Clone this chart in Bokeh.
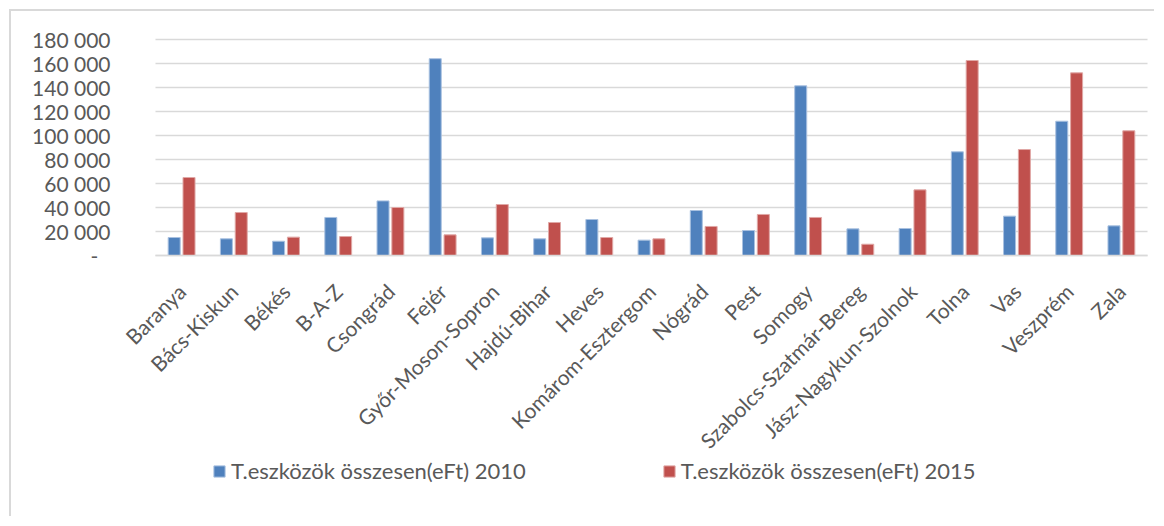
from bokeh.plotting import figure
from bokeh.models import ColumnDataSource, FixedTicker, Legend, LegendItem, Range1d, Grid
from bokeh.transform import dodge
from bokeh.embed import file_html
from bokeh.resources import INLINE

counties = ["Baranya", "Bács-Kiskun", "Békés", "B-A-Z", "Csongrád", "Fejér",
            "Győr-Moson-Sopron", "Hajdú-Bihar", "Heves", "Komárom-Esztergom",
            "Nógrád", "Pest", "Somogy", "Szabolcs-Szatmár-Bereg",
            "Jász-Nagykun-Szolnok", "Tolna", "Vas", "Veszprém", "Zala"]
values_2010 = [15000, 13900, 11900, 31700, 45500, 164000, 14700, 13900, 30000, 12800,
               37500, 20800, 141400, 22200, 22500, 86400, 32800, 111900, 24700]
values_2015 = [65000, 35800, 15300, 15800, 40000, 17200, 42500, 27500, 15000, 13900,
               24200, 34200, 31700, 9400, 54700, 162500, 88300, 152200, 103900]
series_names = ["T.eszközök összesen(eFt) 2010", "T.eszközök összesen(eFt) 2015"]
series_colors = ["#4F81BD", "#C0504D"]
edge_colors = ["#a9c1e0", "#e0a8a6"]
y_ticks = [0, 20000, 40000, 60000, 80000, 100000, 120000, 140000, 160000, 180000]
y_tick_labels = ["-\u2007", "20 000", "40 000", "60 000", "80 000", "100 000",
                 "120 000", "140 000", "160 000", "180 000"]

FONT = "Lato"
GREY = "#595959"

# layout constants (pixels)
FIG_W, FIG_H = 1145, 507
TOP = 28                 # position of the top gridline inside figure
PLOT_L, PLOT_R = 144, 1136   # category area inside figure
DATA_H = 216             # pixels for 0..180000
Y_MAX = 180000

n = len(counties)
px_per_cat = (PLOT_R - PLOT_L) / n
x_start = -PLOT_L / px_per_cat
x_end = n + (FIG_W - PLOT_R) / px_per_cat
units_per_px = Y_MAX / DATA_H
y_top = Y_MAX + TOP * units_per_px
y_min = -(FIG_H - TOP - DATA_H) * units_per_px

centers = [i + 0.5 for i in range(n)]
src = ColumnDataSource(dict(pos=centers, v10=values_2010, v15=values_2015))

p = figure(x_range=Range1d(x_start, x_end), y_range=Range1d(y_min, y_top),
           width=FIG_W, height=FIG_H, output_backend="svg", toolbar_location=None,
           min_border_left=0, min_border_right=0, min_border_top=0, min_border_bottom=0,
           styles={"margin-left": "9px", "margin-top": "9px",
                   "border-left": "2px solid #d9d9d9", "border-top": "2px solid #d9d9d9"})
p.outline_line_color = None

r1 = p.vbar(x=dodge("pos", -0.142), top="v10", width=0.23, source=src,
            fill_color=series_colors[0], line_color=edge_colors[0], line_width=1)
r2 = p.vbar(x=dodge("pos", 0.142), top="v15", width=0.23, source=src,
            fill_color=series_colors[1], line_color=edge_colors[1], line_width=1)

p.xgrid.visible = False
p.ygrid.grid_line_color = "#d9d9d9"
p.ygrid.grid_line_width = 1.5
p.ygrid.ticker = FixedTicker(ticks=y_ticks)
if "cross_bounds" in Grid.properties():
    p.ygrid.cross_bounds = (0, n)

p.yaxis.fixed_location = 0
p.yaxis.ticker = FixedTicker(ticks=y_ticks)
p.yaxis.major_label_overrides = {t: l for t, l in zip(y_ticks, y_tick_labels)}
p.yaxis.axis_line_color = None
p.yaxis.major_tick_line_color = None
p.yaxis.minor_tick_line_color = None
p.yaxis.major_tick_out = 0
p.yaxis.major_tick_in = 0
p.yaxis.major_label_standoff = 45
p.yaxis.major_label_text_font = FONT
p.yaxis.major_label_text_font_size = "21px"
p.yaxis.major_label_text_color = GREY

p.xaxis.fixed_location = 0
p.xaxis.bounds = (0, n)
p.xaxis.ticker = FixedTicker(ticks=centers)
p.xaxis.major_label_overrides = {c: name for c, name in zip(centers, counties)}
p.xaxis.axis_line_color = "#d9d9d9"
p.xaxis.axis_line_width = 1.5
p.xaxis.major_tick_line_color = None
p.xaxis.minor_tick_line_color = None
p.xaxis.major_tick_out = 0
p.xaxis.major_tick_in = 0
p.xaxis.major_label_orientation = 0.785398
p.xaxis.major_label_standoff = 32
p.xaxis.major_label_text_font = FONT
p.xaxis.major_label_text_font_size = "21px"
p.xaxis.major_label_text_color = GREY

legend = Legend(items=[LegendItem(label=series_names[0], renderers=[r1]),
                       LegendItem(label=series_names[1], renderers=[r2])],
                location=(201, 34), orientation="horizontal",
                glyph_width=14, glyph_height=14, label_standoff=5, spacing=136,
                label_text_font=FONT, label_text_font_size="22px", label_text_color=GREY,
                border_line_color=None, background_fill_alpha=0,
                padding=0, margin=0)
p.add_layout(legend, "center")

open("out.html", "w").write(file_html(p, INLINE))
